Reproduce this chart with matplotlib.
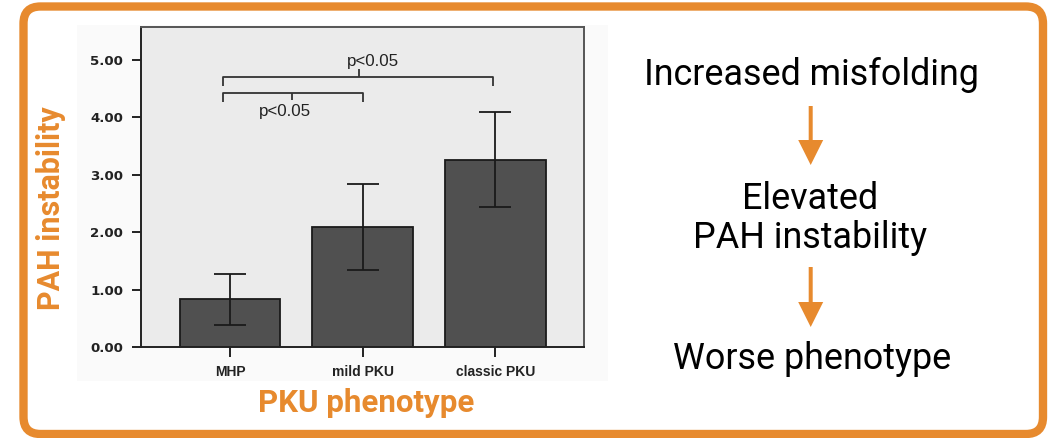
import numpy as np
import matplotlib
matplotlib.use('Agg')
import matplotlib.pyplot as plt
from matplotlib.patches import FancyBboxPatch, FancyArrow, Rectangle

# values
phenotypes = ['MHP', 'mild PKU', 'classic PKU']
instability = [0.835, 2.094, 3.265]
err_low = [0.39, 1.351, 2.436]
err_high = [1.27, 2.842, 4.09]
yticks = [0.0, 1.0, 2.0, 3.0, 4.0, 5.0]

steps = ['Increased misfolding', 'Elevated\nPAH instability', 'Worse phenotype']

orange = '#E78A2E'
W, H = 1048, 438

def px(x, y):
    # pixel (from top-left) -> inches for fig.dpi_scale_trans
    return x / 100.0, (H - y) / 100.0

fig = plt.figure(figsize=(W / 100, H / 100), dpi=100)
fig.patch.set_facecolor('white')
inch = fig.dpi_scale_trans

# faint panel behind the pasted chart
x0, y0 = px(77, 381)
fig.patches.append(Rectangle((x0, y0), (608 - 77) / 100, 3.56, transform=inch,
                             facecolor='#fafafa', edgecolor='none', zorder=-1))

# orange rounded frame
bx, by = px(23.5, 434)
fig.patches.append(FancyBboxPatch((bx, by), (1043 - 23.5) / 100, (434 - 6.5) / 100,
                                  boxstyle='round,pad=0,rounding_size=0.17',
                                  transform=inch, facecolor='none',
                                  edgecolor=orange, linewidth=6, zorder=1))

# bar chart
ax = fig.add_axes([141 / W, (H - 347.3) / H, (584.3 - 141) / W, 320.3 / H])
ax.set_facecolor('#ebebeb')
x = np.arange(len(phenotypes))
vals = np.array(instability)
yerr = [vals - np.array(err_low), np.array(err_high) - vals]
ax.bar(x, vals, width=0.76, color='#505050', edgecolor='#1a1a1a', linewidth=1.3, zorder=2)
ax.errorbar(x, vals, yerr=yerr, fmt='none', ecolor='#1a1a1a', elinewidth=1.3,
            capsize=11.5, capthick=1.3, zorder=3)
ax.set_xlim(-0.671, 2.671)
ax.set_ylim(0, 5.574)
ax.set_xticks(x)
ax.set_xticklabels(phenotypes, fontfamily='Liberation Sans', fontweight='bold',
                   fontsize=10, color='#222222')
ax.set_yticks(yticks)
ax.set_yticklabels(['%.2f' % t for t in yticks], fontfamily='DejaVu Sans',
                   fontweight='bold', fontsize=9.6, color='#222222')
ax.tick_params(axis='y', direction='out', length=6.5, width=1.4, color='#222222', pad=6.5)
ax.tick_params(axis='x', direction='out', length=7, width=1.4, color='#222222', pad=6)
for s in ['left', 'bottom']:
    ax.spines[s].set_color('#222222')
    ax.spines[s].set_linewidth(1.4)
for s in ['top', 'right']:
    ax.spines[s].set_color('#555555')
    ax.spines[s].set_linewidth(1.4)

# significance brackets
bk = dict(color='#333333', linewidth=1.3, solid_capstyle='butt', zorder=4)
ax.plot([-0.051, -0.051, 1.0, 1.0], [4.27, 4.43, 4.43, 4.27], **bk)
ax.plot([0.466, 0.466], [4.43, 4.30], **bk)
ax.text(0.411, 4.11, 'p<0.05', ha='center', va='center', fontsize=12.2,
        family='Liberation Sans', color='#222222')
ax.plot([-0.051, -0.051, 1.983, 1.983], [4.55, 4.71, 4.71, 4.55], **bk)
ax.plot([0.971, 0.971], [4.71, 4.84], **bk)
ax.text(1.079, 4.97, 'p<0.05', ha='center', va='center', fontsize=12.2,
        family='Liberation Sans', color='#222222')

# axis titles in orange
tx, ty = px(366, 411.7)
fig.text(tx, ty, 'PKU phenotype', transform=inch, ha='center', va='baseline',
         fontsize=22.5, fontweight='bold', family='Roboto', color=orange)
tx, ty = px(60, 208)
fig.text(tx, ty, 'PAH instability', transform=inch, ha='center', va='baseline',
         rotation=90, rotation_mode='anchor',
         fontsize=22, fontweight='bold', family='Roboto', color=orange)

# right-hand flow
tx, ty = px(811.5, 85)
fig.text(tx, ty, steps[0], transform=inch, ha='center', va='baseline',
         fontsize=25.8, family='Roboto', color='black')
tx, ty = px(810, 248)
fig.text(tx, ty, steps[1], transform=inch, ha='center', va='baseline',
         fontsize=25.8, family='Roboto', color='black', linespacing=1.1,
         multialignment='center')
tx, ty = px(812.5, 369.3)
fig.text(tx, ty, steps[2], transform=inch, ha='center', va='baseline',
         fontsize=25.8, family='Roboto', color='black')

for top, tip in [(106, 165), (267, 327)]:
    ax_, ay_ = px(810.7, top)
    fig.patches.append(FancyArrow(ax_, ay_, 0, -(tip - top) / 100, width=0.04,
                                  head_width=0.25, head_length=0.25,
                                  length_includes_head=True, transform=inch,
                                  facecolor=orange, edgecolor='none'))

fig.savefig('out.png', dpi=100)
